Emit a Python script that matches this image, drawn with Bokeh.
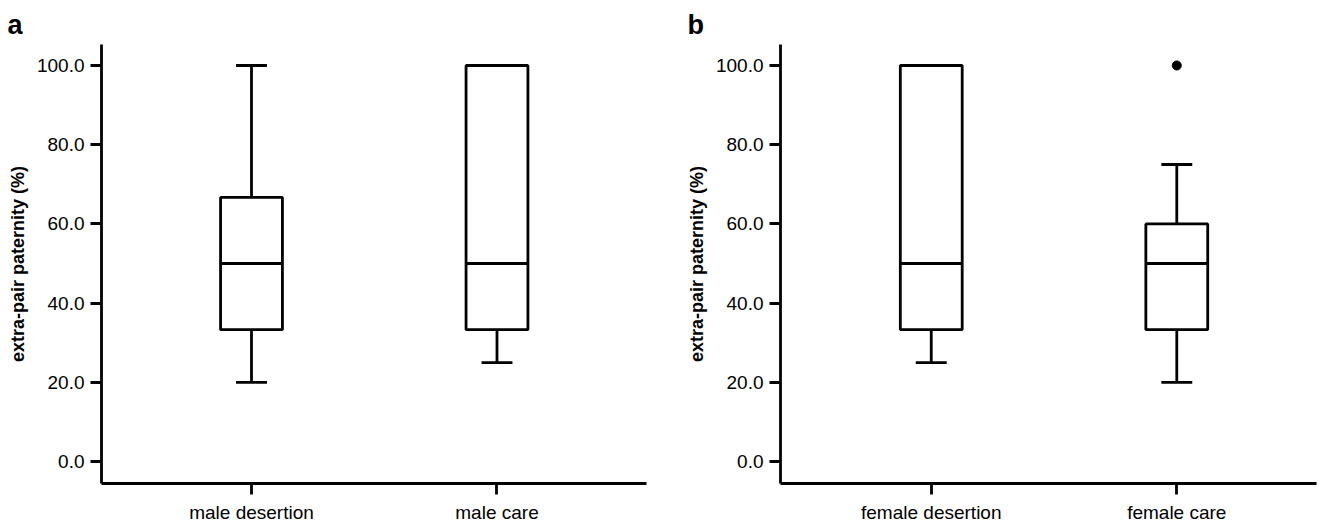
from bokeh.plotting import figure
from bokeh.layouts import row
from bokeh.models import FixedTicker, PrintfTickFormatter, Range1d, Title, ColumnDataSource
from bokeh.embed import file_html
from bokeh.resources import INLINE

# ---- data ----
cats_a = ["male desertion", "male care"]
min_a = [20.0, 25.0]
q1_a = [33.3, 33.3]
med_a = [50.0, 50.0]
q3_a = [66.7, 100.0]
max_a = [100.0, 100.0]
out_a = []  # (category index, value)

cats_b = ["female desertion", "female care"]
min_b = [25.0, 20.0]
q1_b = [33.3, 33.3]
med_b = [50.0, 50.0]
q3_b = [100.0, 60.0]
max_b = [100.0, 75.0]
out_b = [(2, 100.0)]

y_ticks = [0, 20, 40, 60, 80, 100]

FONT = "Liberation Sans"
BOX_W = 0.252
CAP_W = 0.126
LW = 2.8


def make_panel(cats, mins, q1s, meds, q3s, maxs, outs, letter, width, bl, br, xr, letter_off):
    p = figure(width=width, height=525, output_backend="svg", toolbar_location=None,
               x_range=Range1d(*xr), y_range=Range1d(-5.54, 105.3),
               min_border_left=bl, min_border_right=br, min_border_top=44, min_border_bottom=41)
    p.outline_line_color = None
    p.xgrid.visible = False
    p.ygrid.visible = False
    p.background_fill_color = "white"
    xs = list(range(1, len(cats) + 1))
    src = ColumnDataSource(dict(x=xs, lo=mins, q1=q1s, med=meds, q3=q3s, hi=maxs,
                                cl=[x - CAP_W / 2 for x in xs], cr=[x + CAP_W / 2 for x in xs],
                                bl=[x - BOX_W / 2 for x in xs], br=[x + BOX_W / 2 for x in xs]))
    # whiskers
    p.segment(x0="x", y0="q3", x1="x", y1="hi", source=src, line_color="black", line_width=LW)
    p.segment(x0="x", y0="lo", x1="x", y1="q1", source=src, line_color="black", line_width=LW)
    # caps
    p.segment(x0="cl", y0="hi", x1="cr", y1="hi", source=src, line_color="black", line_width=LW)
    p.segment(x0="cl", y0="lo", x1="cr", y1="lo", source=src, line_color="black", line_width=LW)
    # boxes
    p.vbar(x="x", width=BOX_W, top="q3", bottom="q1", source=src, fill_color="white",
           line_color="black", line_width=LW)
    # medians
    p.segment(x0="bl", y0="med", x1="br", y1="med", source=src, line_color="black", line_width=LW)
    # outliers
    if outs:
        p.scatter(x=[o[0] for o in outs], y=[o[1] for o in outs], size=9, color="black")

    for ax in (p.xaxis[0], p.yaxis[0]):
        ax.axis_line_width = 2.8
        ax.major_tick_line_width = 2.8
        ax.major_tick_out = 11
        ax.major_tick_in = 0
        ax.minor_tick_line_color = None
        ax.major_label_text_font = FONT
        ax.major_label_text_font_size = "19px"
        ax.major_label_text_color = "black"
        ax.axis_line_color = "black"
        ax.major_tick_line_color = "black"
    p.xaxis.ticker = FixedTicker(ticks=xs)
    p.xaxis.major_label_overrides = {x: c for x, c in zip(xs, cats)}
    p.xaxis.major_label_text_font_size = "19px"
    p.xaxis.major_label_standoff = 7
    p.yaxis.ticker = FixedTicker(ticks=y_ticks)
    p.yaxis.formatter = PrintfTickFormatter(format="%.1f")
    p.yaxis.major_label_standoff = 6
    p.yaxis.axis_label = "extra-pair paternity (%)"
    p.yaxis.axis_label_text_font = FONT
    p.yaxis.axis_label_text_font_size = "18px"
    p.yaxis.axis_label_text_font_style = "bold"
    p.yaxis.axis_label_text_color = "black"
    p.yaxis.axis_label_standoff = 6
    p.add_layout(Title(text=letter, text_font=FONT, text_font_size="27px", text_font_style="bold",
                       text_color="black", align="left", offset=letter_off, standoff=10), "above")
    return p


pa = make_panel(cats_a, min_a, q1_a, med_a, q3_a, max_a, out_a, "a", 680, 101, 34,
                (0.389, 2.609), -94)
pb = make_panel(cats_b, min_b, q1_b, med_b, q3_b, max_b, out_b, "b", 644, 100, 8,
                (0.386, 2.569), -93)

layout = row(pa, pb, spacing=0)
open("out.html", "w").write(file_html(layout, INLINE))
